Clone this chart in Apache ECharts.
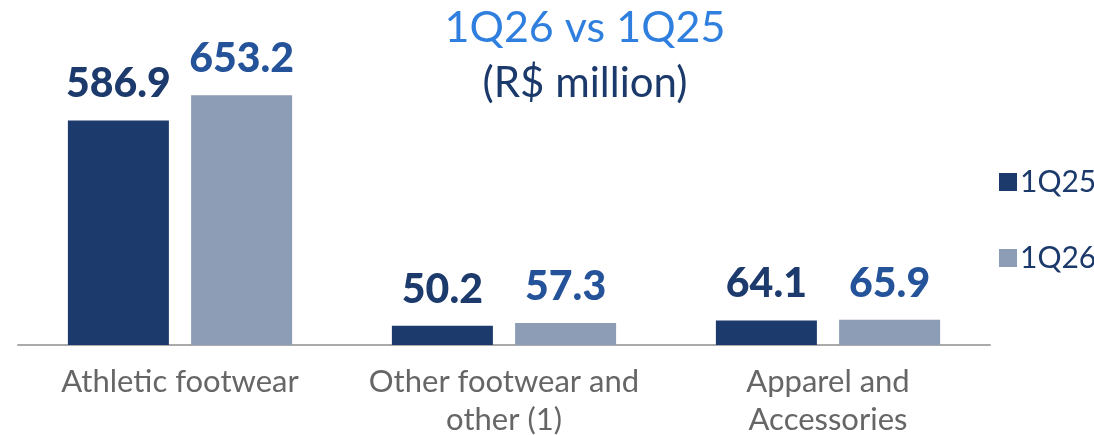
<!DOCTYPE html>
<html>
<head>
<meta charset="utf-8">
<script src="https://cdn.jsdelivr.net/npm/echarts@6/dist/echarts.min.js"></script>
<style>
html, body { margin: 0; padding: 0; background: #fff; }
#main { width: 1094px; height: 435px; }
</style>
</head>
<body>
<div id="main"></div>
<script>
var categories = ['Athletic footwear', 'Other footwear and\nother (1)', 'Apparel and\nAccessories'];
var seriesNames = ['1Q25', '1Q26'];
var values1Q25 = [586.9, 50.2, 64.1];
var values1Q26 = [653.2, 57.3, 65.9];

var dom = document.getElementById('main');
var myChart = echarts.init(dom);
var option = null;

option = {
    animation: false,
    title: {
        text: '1Q26 vs 1Q25',
        subtext: '(R$ million)',
        left: 580,
        textAlign: 'center',
        top: 2,
        itemGap: 12,
        textStyle: {
            fontFamily: 'Lato',
            fontSize: 43,
            fontWeight: 'normal',
            color: '#2f7fdf'
        },
        subtextStyle: {
            fontFamily: 'Lato',
            fontSize: 42,
            color: '#1b3a6b'
        }
    },
    legend: {
        orient: 'vertical',
        left: 994,
        top: 162,
        icon: 'rect',
        itemWidth: 18,
        itemHeight: 18,
        itemGap: 46,
        data: seriesNames,
        textStyle: {
            fontFamily: 'Lato',
            fontSize: 30,
            color: '#1b3a6b',
            padding: [0, 0, 0, -2]
        }
    },
    grid: {
        left: 18,
        right: 104,
        top: 39,
        bottom: 90,
        containLabel: false,
        outerBoundsMode: 'none'
    },
    xAxis: {
        type: 'category',
        data: categories,
        axisTick: { show: false },
        axisLine: { lineStyle: { color: '#aaaaaa', width: 2 } },
        axisLabel: {
            interval: 0,
            hideOverlap: false,
            margin: 18,
            fontFamily: 'Lato',
            fontSize: 31,
            lineHeight: 38,
            color: '#666666'
        }
    },
    yAxis: {
        type: 'value',
        min: 0,
        max: 800,
        show: false,
        splitLine: { show: false }
    },
    series: [
        {
            name: seriesNames[0],
            type: 'bar',
            data: values1Q25,
            barWidth: 101,
            barGap: '22%',
            itemStyle: { color: '#1c3a6b' },
            label: {
                show: true,
                position: 'top',
                distance: 16,
                fontFamily: 'Lato',
                fontWeight: 900,
                fontSize: 41,
                color: '#1c3a6b'
            }
        },
        {
            name: seriesNames[1],
            type: 'bar',
            data: values1Q26,
            barWidth: 101,
            itemStyle: { color: '#8c9db5' },
            label: {
                show: true,
                position: 'top',
                distance: 16,
                fontFamily: 'Lato',
                fontWeight: 900,
                fontSize: 41,
                color: '#24539a'
            }
        }
    ]
};

if (option && typeof option === "object") {
    myChart.setOption(option, true);
}
</script>
</body>
</html>
